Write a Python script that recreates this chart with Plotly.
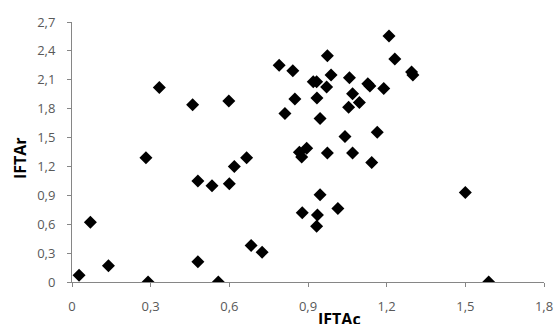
import plotly.graph_objects as go

iftac = [0.027, 0.07, 0.139, 0.29, 0.282, 0.333, 0.46, 0.598, 0.619, 0.666,
         0.48, 0.534, 0.60, 0.48, 0.558, 0.683, 0.725, 0.79, 1.209, 0.842,
         0.974, 1.231, 1.295, 1.30, 0.988, 1.058, 0.92, 0.933, 1.128, 1.136,
         1.189, 0.971, 0.85, 0.934, 1.07, 1.096, 1.055, 0.812, 0.946, 1.041,
         1.164, 0.867, 0.876, 0.895, 0.974, 1.07, 1.143, 0.946, 1.50, 0.878,
         0.936, 1.014, 0.933, 1.589]
iftar = [0.07, 0.62, 0.17, 0.0, 1.29, 2.02, 1.84, 1.88, 1.20, 1.29,
         1.05, 1.00, 1.02, 0.21, 0.0, 0.38, 0.31, 2.25, 2.555, 2.195,
         2.35, 2.316, 2.18, 2.15, 2.15, 2.12, 2.08, 2.08, 2.06, 2.035,
         2.01, 2.025, 1.90, 1.91, 1.955, 1.863, 1.814, 1.749, 1.697, 1.51,
         1.555, 1.347, 1.298, 1.39, 1.34, 1.34, 1.24, 0.907, 0.93, 0.72,
         0.696, 0.762, 0.578, 0.0]

x_ticks = [0, 0.3, 0.6, 0.9, 1.2, 1.5, 1.8]
x_labels = ["0", "0,3", "0,6", "0,9", "1,2", "1,5", "1,8"]
y_ticks = [0, 0.3, 0.6, 0.9, 1.2, 1.5, 1.8, 2.1, 2.4, 2.7]
y_labels = ["0", "0,3", "0,6", "0,9", "1,2", "1,5", "1,8", "2,1", "2,4", "2,7"]

x_title = "IFTAc"
y_title = "IFTAr"

fig = go.Figure(go.Scatter(
    x=iftac, y=iftar, mode="markers",
    marker=dict(symbol="diamond", size=10, color="black"),
))

tick_font = dict(family="Open Sans, sans-serif", size=13, color="#595959")
title_font = dict(family="Open Sans, sans-serif", size=16, color="black")

axis_common = dict(
    showgrid=False, zeroline=False, showline=True, linecolor="#868686", linewidth=1,
    ticks="outside", ticklen=4, tickcolor="#868686", tickfont=tick_font,
    automargin=False,
)

fig.update_layout(
    width=556, height=324,
    margin=dict(l=72, r=12, t=22, b=42),
    paper_bgcolor="white", plot_bgcolor="white",
    showlegend=False,
    xaxis=dict(range=[0, 1.8], tickvals=x_ticks, ticktext=x_labels,
               ticklabelstandoff=8, **axis_common),
    yaxis=dict(range=[0, 2.7], tickvals=y_ticks, ticktext=y_labels,
               ticklabelstandoff=9, **axis_common),
    annotations=[
        dict(text="<b>" + x_title + "</b>", xref="paper", yref="paper",
             x=0.566, y=-0.142, xanchor="center", yanchor="middle",
             showarrow=False, font=title_font),
        dict(text="<b>" + y_title + "</b>", xref="paper", yref="paper",
             x=-0.110, y=0.477, xanchor="center", yanchor="middle",
             textangle=-90, showarrow=False, font=title_font),
    ],
)

fig.write_html(
    "out.html",
    config={"displayModeBar": False},
    post_script="document.body.style.margin='0';document.body.style.overflow='hidden';",
)
